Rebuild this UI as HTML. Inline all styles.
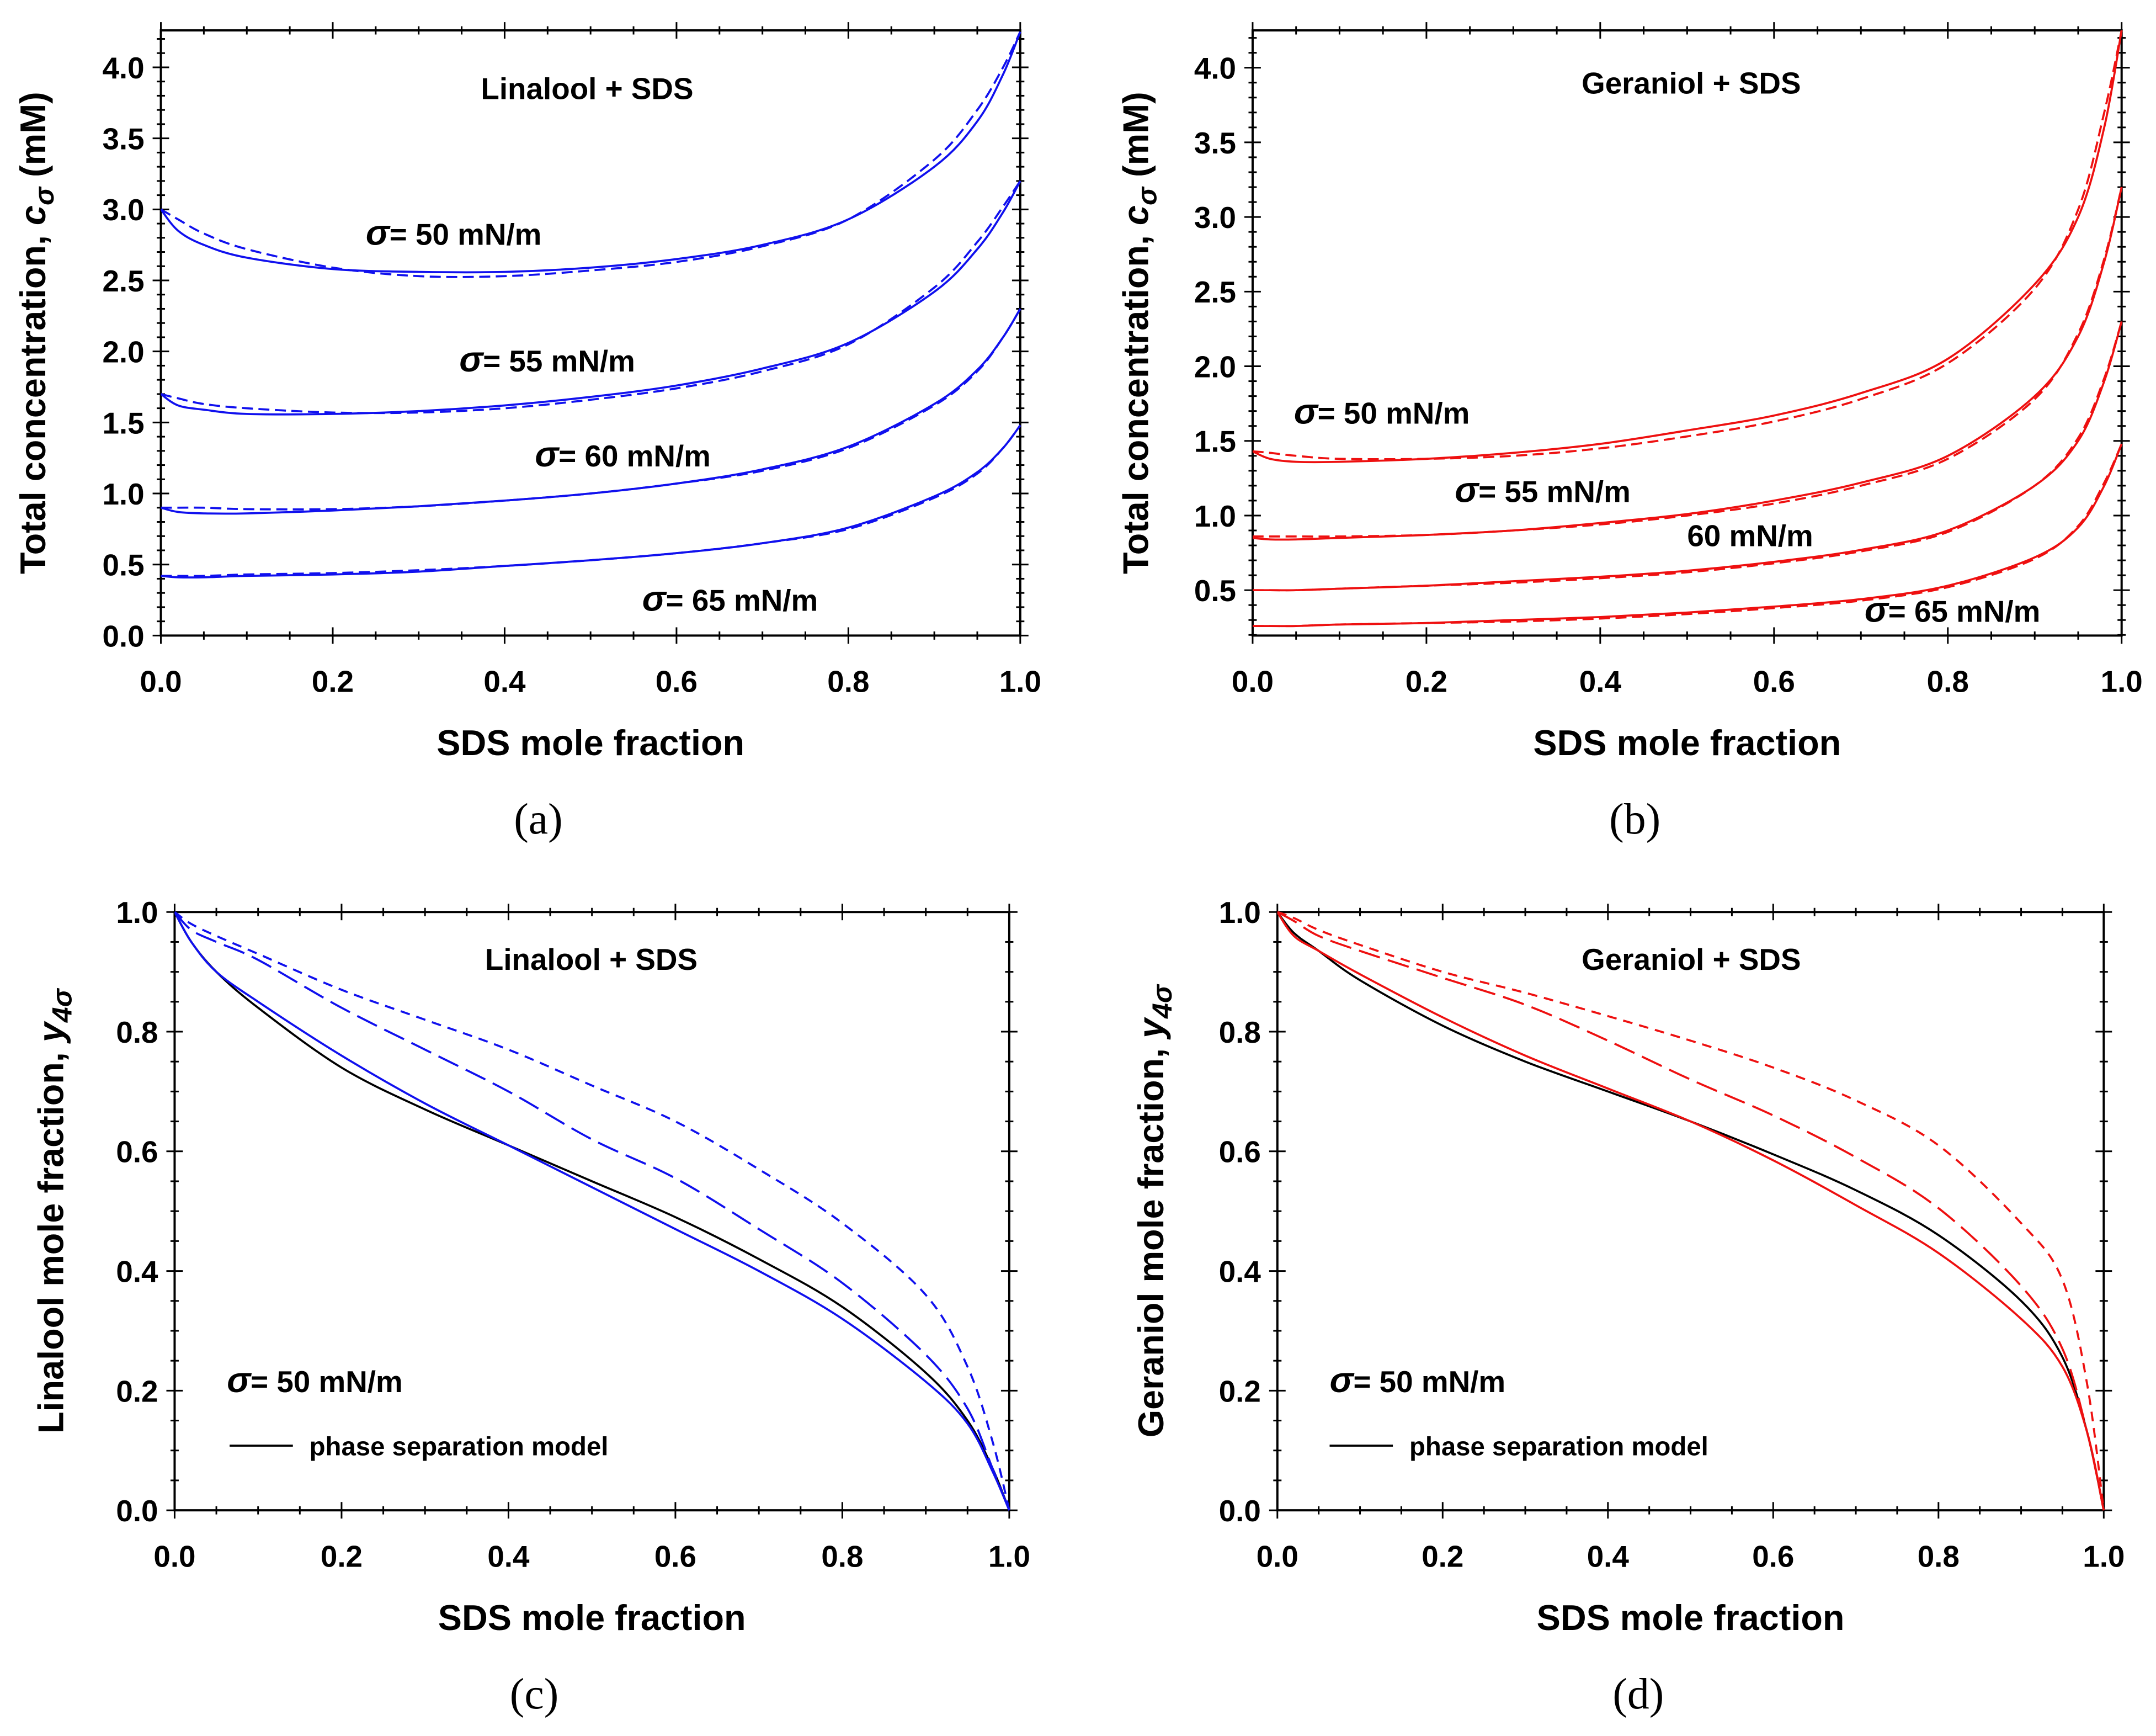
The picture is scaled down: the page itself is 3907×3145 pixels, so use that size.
<!DOCTYPE html>
<html><head><meta charset="utf-8"><style>
html,body{margin:0;padding:0;background:#fff}
svg{display:block}
text{font-family:"Liberation Sans",sans-serif;font-weight:bold;fill:#000}
.cap{font-family:"Liberation Serif",serif;font-weight:normal}
</style></head><body>
<svg id="fig" width="3907" height="3145" viewBox="0 0 1568 1262" xmlns="http://www.w3.org/2000/svg"></svg>
<script>
const xs = [0,0.02,0.05,0.1,0.2,0.3,0.4,0.5,0.6,0.7,0.8,0.9,0.95,0.98,1.0];
// panel a (Linalool + SDS, total concentration)
const a50s=[3.0,2.85,2.75,2.66,2.58,2.56,2.56,2.59,2.65,2.75,2.93,3.3,3.62,3.95,4.25];
const a50d=[3.0,2.93,2.83,2.72,2.59,2.53,2.53,2.57,2.63,2.74,2.93,3.35,3.7,4.0,4.25];
const a55s=[1.7,1.62,1.59,1.56,1.56,1.58,1.62,1.68,1.76,1.88,2.06,2.42,2.72,2.98,3.2];
const a55d=[1.7,1.67,1.63,1.6,1.57,1.57,1.6,1.66,1.74,1.86,2.05,2.45,2.77,3.02,3.2];
const a60s=[0.9,0.87,0.86,0.86,0.88,0.91,0.95,1.0,1.07,1.17,1.33,1.63,1.87,2.1,2.3];
const a60d=[0.9,0.9,0.9,0.89,0.89,0.91,0.95,1.0,1.07,1.16,1.32,1.62,1.86,2.1,2.3];
const a65s=[0.42,0.41,0.41,0.42,0.43,0.45,0.49,0.53,0.58,0.65,0.76,0.98,1.15,1.32,1.48];
const a65d=[0.42,0.42,0.42,0.43,0.44,0.46,0.49,0.53,0.58,0.65,0.75,0.97,1.14,1.32,1.48];
// panel b (Geraniol + SDS)
const b50s=[1.43,1.38,1.36,1.36,1.38,1.42,1.48,1.57,1.67,1.82,2.05,2.55,3.0,3.6,4.25];
const b50d=[1.43,1.42,1.4,1.38,1.38,1.4,1.45,1.53,1.63,1.78,2.02,2.52,3.05,3.7,4.25];
const b55s=[0.85,0.84,0.84,0.85,0.87,0.9,0.95,1.01,1.1,1.22,1.4,1.8,2.2,2.7,3.2];
const b55d=[0.86,0.86,0.86,0.86,0.87,0.9,0.94,1.0,1.08,1.2,1.38,1.78,2.22,2.72,3.2];
const b60s=[0.5,0.5,0.5,0.51,0.53,0.56,0.59,0.63,0.69,0.77,0.9,1.2,1.5,1.9,2.3];
const b60d=[0.5,0.5,0.5,0.51,0.53,0.55,0.58,0.62,0.68,0.76,0.89,1.2,1.52,1.92,2.3];
const b65s=[0.26,0.26,0.26,0.27,0.28,0.3,0.32,0.35,0.39,0.44,0.53,0.72,0.92,1.2,1.48];
const b65d=[0.26,0.26,0.26,0.27,0.28,0.29,0.31,0.34,0.38,0.43,0.52,0.71,0.93,1.22,1.48];
// panel c (Linalool mole fraction)
const cPS=[1,0.95,0.9,0.84,0.74,0.67,0.61,0.55,0.49,0.42,0.34,0.23,0.15,0.07,0];
const cS=[1,0.95,0.9,0.85,0.76,0.68,0.61,0.54,0.47,0.4,0.32,0.215,0.145,0.065,0];
const cL=[1,0.97,0.95,0.92,0.84,0.77,0.7,0.62,0.555,0.47,0.38,0.26,0.17,0.07,0];
const cD=[1,0.98,0.96,0.93,0.87,0.82,0.77,0.71,0.65,0.57,0.48,0.36,0.24,0.115,0];
// panel d (Geraniol mole fraction)
const dPS=[1,0.965,0.935,0.886,0.81,0.75,0.70,0.65,0.595,0.535,0.46,0.35,0.256,0.13,0];
const dS=[1,0.96,0.935,0.896,0.824,0.76,0.705,0.65,0.585,0.51,0.43,0.32,0.24,0.13,0];
const dL=[1,0.985,0.96,0.935,0.89,0.845,0.785,0.72,0.66,0.59,0.505,0.375,0.27,0.13,0];
const dD=[1,0.99,0.97,0.945,0.90,0.865,0.826,0.785,0.74,0.685,0.61,0.48,0.385,0.21,0];
const xTicks=["0.0","0.2","0.4","0.6","0.8","1.0"];

const NS="http://www.w3.org/2000/svg";
const svg=document.getElementById('fig');
function el(tag,attrs,parent){const e=document.createElementNS(NS,tag);for(const k in attrs)e.setAttribute(k,attrs[k]);(parent||svg).appendChild(e);return e;}
function txt(s,attrs,parent){const e=el('text',attrs,parent);e.textContent=s;return e;}

function panel(P){
  const g=el('g',{});
  
  
  const X=v=>P.x0+(P.x1-P.x0)*v;
  const Y=v=>P.y1-(P.y1-P.y0)*(v-P.ymin)/(P.ymax-P.ymin);
  const fr=el('rect',{x:P.x0,y:P.y0,width:P.x1-P.x0,height:P.y1-P.y0,fill:'none',stroke:'#000','stroke-width':1.6},g);
  
  
  for(let i=0;i<=20;i++){const v=i*0.05,px=X(v),L=(i%4===0)?6:3;
    el('line',{x1:px,x2:px,y1:P.y1-L,y2:P.y1+L,stroke:'#000','stroke-width':1.2},g);
    el('line',{x1:px,x2:px,y1:P.y0-L,y2:P.y0+L,stroke:'#000','stroke-width':1.2},g);}
  xTicks.forEach((t,i)=>{const e=txt(t,{x:X(i*0.2),y:P.y1+41,'text-anchor':'middle','font-size':22},g);
    });
  const n=Math.round((P.ymax-P.yfirst)/P.minor+1e-6);
  for(let i=0;i<=n;i++){const v=P.yfirst+i*P.minor;if(v>P.ymax+1e-9)break;const py=Y(v);
    const maj=Math.abs(v/P.major-Math.round(v/P.major))<1e-6;const L=maj?6:3;
    el('line',{x1:P.x0-L,x2:P.x0+L,y1:py,y2:py,stroke:'#000','stroke-width':1.2},g);
    el('line',{x1:P.x1-L,x2:P.x1+L,y1:py,y2:py,stroke:'#000','stroke-width':1.2},g);}
  P.yLabels.forEach(t=>{const e=txt(t,{x:P.x0-12,y:Y(parseFloat(t))+8,'text-anchor':'end','font-size':22},g);
    });
  const xt=txt('SDS mole fraction',{x:(P.x0+P.x1)/2+(P.xtOff||0),y:P.y1+87,'text-anchor':'middle','font-size':26},g);
  
  const cy=(P.y0+P.y1)/2;
  const yt=el('text',{transform:`translate(${P.ytX},${cy}) rotate(-90)`,'text-anchor':'middle','font-size':26},g);
  
  yt.innerHTML=P.ytitle;
  const cap=txt(P.cap,{x:(P.x0+P.x1)/2-38+(P.capOff||0),y:P.capY,'text-anchor':'middle','font-size':32,class:'cap'},g);
  
  const clip='clip'+P.name;
  const cp=el('clipPath',{id:clip},g);el('rect',{x:P.x0,y:P.y0-2,width:P.x1-P.x0+2,height:P.y1-P.y0+4},cp);
  P.series.forEach(s=>{
    const pts=xs.map((x,i)=>[X(x),Y(s.v[i])]);
    let d=`M${pts[0][0]},${pts[0][1]}`;
    for(let i=0;i<pts.length-1;i++){const p0=pts[Math.max(0,i-1)],p1=pts[i],p2=pts[i+1],p3=pts[Math.min(pts.length-1,i+2)];
      const c1=[p1[0]+(p2[0]-p0[0])/6,p1[1]+(p2[1]-p0[1])/6],c2=[p2[0]-(p3[0]-p1[0])/6,p2[1]-(p3[1]-p1[1])/6];
      d+=`C${c1[0]},${c1[1]} ${c2[0]},${c2[1]} ${p2[0]},${p2[1]}`;}
    const p=el('path',{d:d,fill:'none',stroke:s.c,'stroke-width':1.5,'clip-path':`url(#${clip})`},g);
    if(s.dash)p.setAttribute('stroke-dasharray',s.dash);
    
    
  });
  P.notes.forEach(nt=>{const e=el('text',{x:nt[1],y:nt[2],'font-size':22,'text-anchor':nt[3]||'start'},g);e.innerHTML=nt[0];
    });
  if(P.legend){const L=P.legend;
    const ll=el('line',{x1:L[0],x2:L[0]+46,y1:L[1],y2:L[1],stroke:'#000','stroke-width':1.5},g);
    
    const lt=txt('phase separation model',{x:L[0]+58,y:L[1]+7,'font-size':19},g);
    }
}
const sig='<tspan font-style="italic" font-size="26">σ</tspan>';
const SD='8,4', LD='16,6', SHD='7,5';
panel({name:'panel-a',x0:117,x1:742,y0:22,y1:462,ymin:0,ymax:4.26,yfirst:0,minor:0.1,major:0.5,
  yLabels:["0.0","0.5","1.0","1.5","2.0","2.5","3.0","3.5","4.0"],ytX:33,cap:'(a)',capY:606,capOff:0,
  ytitle:'Total concentration, <tspan font-style="italic">c</tspan><tspan font-style="italic" font-size="20" dy="6">σ</tspan><tspan dy="-6"> (mM)</tspan>',
  series:[{v:a50s,c:'#1010ee',n:'a-50-model'},{v:a50d,c:'#1010ee',dash:SD,n:'a-50-fit'},
    {v:a55s,c:'#1010ee',n:'a-55-model'},{v:a55d,c:'#1010ee',dash:SD,n:'a-55-fit'},
    {v:a60s,c:'#1010ee',n:'a-60-model'},{v:a60d,c:'#1010ee',dash:SD,n:'a-60-fit'},
    {v:a65s,c:'#1010ee',n:'a-65-model'},{v:a65d,c:'#1010ee',dash:SD,n:'a-65-fit'}],
  notes:[['Linalool + SDS',427,72,'middle','annotation-title'],[sig+'= 50 mN/m',266,178,'start','label-50'],
    [sig+'= 55 mN/m',334,270,'start','label-55'],[sig+'= 60 mN/m',389,339,'start','label-60'],[sig+'= 65 mN/m',467,444,'start','label-65']]});
panel({name:'panel-b',x0:911,x1:1543,y0:22,y1:462,ymin:0.196,ymax:4.25,yfirst:0.2,minor:0.1,major:0.5,
  yLabels:["0.5","1.0","1.5","2.0","2.5","3.0","3.5","4.0"],ytX:835,cap:'(b)',capY:606,
  ytitle:'Total concentration, <tspan font-style="italic">c</tspan><tspan font-style="italic" font-size="20" dy="6">σ</tspan><tspan dy="-6"> (mM)</tspan>',
  series:[{v:b50s,c:'#ee1010',n:'b-50-model'},{v:b50d,c:'#ee1010',dash:SD,n:'b-50-fit'},
    {v:b55s,c:'#ee1010',n:'b-55-model'},{v:b55d,c:'#ee1010',dash:SD,n:'b-55-fit'},
    {v:b60s,c:'#ee1010',n:'b-60-model'},{v:b60d,c:'#ee1010',dash:SD,n:'b-60-fit'},
    {v:b65s,c:'#ee1010',n:'b-65-model'},{v:b65d,c:'#ee1010',dash:SD,n:'b-65-fit'}],
  notes:[['Geraniol + SDS',1230,68,'middle','annotation-title'],[sig+'= 50 mN/m',941,308,'start','label-50'],
    [sig+'= 55 mN/m',1058,365,'start','label-55'],['60 mN/m',1227,397,'start','label-60'],[sig+'= 65 mN/m',1356,452,'start','label-65']]});
panel({name:'panel-c',x0:127,x1:734,y0:663,y1:1098,ymin:0,ymax:1,yfirst:0,minor:0.05,major:0.2,
  yLabels:["0.0","0.2","0.4","0.6","0.8","1.0"],ytX:46,cap:'(c)',capY:1242,capOff:-4,
  ytitle:'Linalool mole fraction, <tspan font-style="italic">y</tspan><tspan font-style="italic" font-size="20" dy="6">4σ</tspan>',
  series:[{v:cPS,c:'#000',n:'c-phase-separation'},{v:cS,c:'#1010ee',n:'c-model'},
    {v:cL,c:'#1010ee',dash:LD,n:'c-long-dash'},{v:cD,c:'#1010ee',dash:SHD,n:'c-short-dash'}],
  notes:[['Linalool + SDS',430,705,'middle','annotation-title'],[sig+'= 50 mN/m',165,1012,'start','label-50']],
  legend:[167,1051]});
panel({name:'panel-d',x0:929,x1:1530,y0:663,y1:1098,ymin:0,ymax:1,yfirst:0,minor:0.05,major:0.2,
  yLabels:["0.0","0.2","0.4","0.6","0.8","1.0"],ytX:846,cap:'(d)',capY:1242,capOff:0,
  ytitle:'Geraniol mole fraction, <tspan font-style="italic">y</tspan><tspan font-style="italic" font-size="20" dy="6">4σ</tspan>',
  series:[{v:dPS,c:'#000',n:'d-phase-separation'},{v:dS,c:'#ee1010',n:'d-model'},
    {v:dL,c:'#ee1010',dash:LD,n:'d-long-dash'},{v:dD,c:'#ee1010',dash:SHD,n:'d-short-dash'}],
  notes:[['Geraniol + SDS',1230,705,'middle','annotation-title'],[sig+'= 50 mN/m',967,1012,'start','label-50']],
  legend:[967,1051]});
</script>
</body></html>
